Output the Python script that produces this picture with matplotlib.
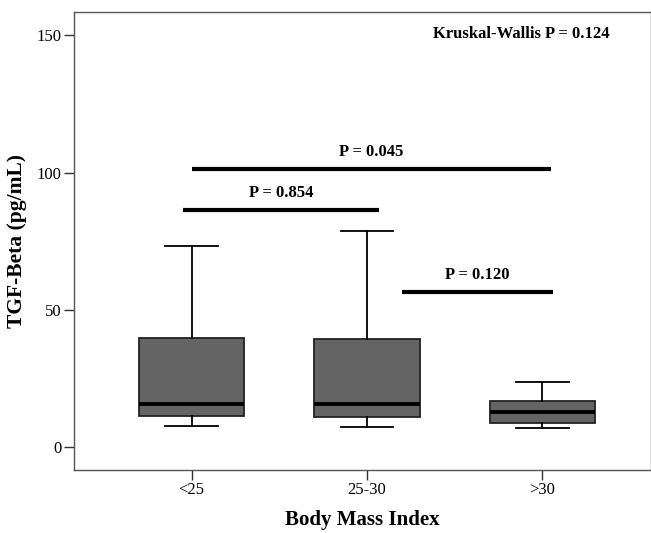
import matplotlib
matplotlib.use("Agg")
import matplotlib.pyplot as plt

plt.rcParams['font.family'] = ['Liberation Serif', 'DejaVu Serif']

groups = ["<25", "25-30", ">30"]
whis_lo = [7.8, 7.5, 7.1]
q1 = [11.5, 11.0, 8.7]
median = [15.8, 15.9, 12.7]
q3 = [39.7, 39.4, 16.7]
whis_hi = [73.1, 78.9, 23.7]

# pairwise comparison bars: (start, end, height, label)
pair_x0 = [-0.05, 0.0, 1.2]
pair_x1 = [1.07, 2.05, 2.06]
pair_y = [86.4, 101.3, 56.6]
pair_labels = ["P = 0.854", "P = 0.045", "P = 0.120"]
kw_label = "Kruskal-Wallis P = 0.124"

stats = [dict(label=g, whislo=lo, q1=a, med=m, q3=b, whishi=hi, fliers=[])
         for g, lo, a, m, b, hi in zip(groups, whis_lo, q1, median, q3, whis_hi)]

fig = plt.figure(figsize=(6.51, 5.33), dpi=100)
ax = fig.add_axes([0.1137, 0.1182, 0.8863, 0.8593])

ax.bxp(stats, positions=range(len(groups)), widths=0.6, patch_artist=True,
       showfliers=False,
       boxprops=dict(facecolor="#646464", edgecolor="#222222", linewidth=1.3),
       medianprops=dict(color="black", linewidth=2.8),
       whiskerprops=dict(color="black", linewidth=1.3),
       capprops=dict(color="black", linewidth=1.3),
       capwidths=0.3)

for x0, x1, y, lab in zip(pair_x0, pair_x1, pair_y, pair_labels):
    ax.plot([x0, x1], [y, y], color="black", linewidth=3, solid_capstyle="butt")
    ax.text((x0 + x1) / 2, y + 3.3, lab, ha="center", va="bottom",
            fontsize=12, fontweight="bold")

ax.text(1.88, 150.5, kw_label, ha="center", va="center",
        fontsize=12, fontweight="bold")

ax.set_xlim(-0.67, 2.62)
ax.set_ylim(-8.3, 158.5)
ax.set_yticks([0, 50, 100, 150])
ax.set_xticks(range(len(groups)))
ax.set_xticklabels(groups)
ax.tick_params(axis="both", direction="out", length=7, width=1,
               color="#333333", labelsize=12, pad=2)

for s in ax.spines.values():
    s.set_color("#555555")
    s.set_linewidth(1)

ax.set_xlabel("Body Mass Index", fontsize=15, fontweight="bold", labelpad=8)
ax.set_ylabel("TGF-Beta (pg/mL)", fontsize=15.5, fontweight="bold", labelpad=7)

fig.savefig("out.png", dpi=100)
